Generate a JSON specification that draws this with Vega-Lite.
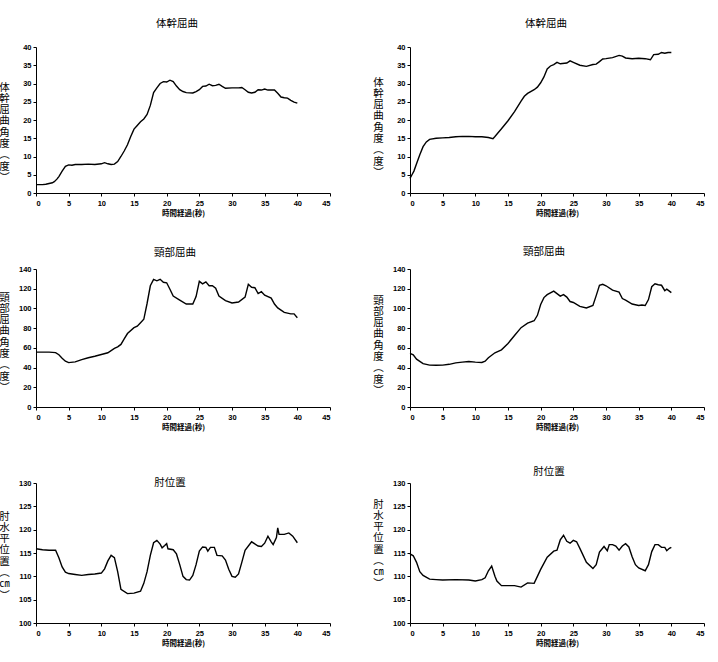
{
  "$schema": "https://vega.github.io/schema/vega-lite/v6.json",
  "background": "white",
  "padding": {"left": -2, "top": 18, "right": 5, "bottom": 5},
  "config": {
    "view": {"stroke": null},
    "font": "Noto Sans CJK JP",
    "axis": {"domainColor": "black", "tickColor": "black", "labelColor": "black", "titleColor": "black", "grid": false, "labelFont": "Liberation Sans", "labelFontWeight": "bold", "labelFontSize": 7.5, "tickSize": 3, "domainWidth": 1, "tickWidth": 1},
    "axisX": {"titleFont": "Noto Sans CJK JP", "titleFontSize": 7.5, "titleFontWeight": "bold", "titlePadding": 3, "labelPadding": 3},
    "axisY": {"titleAngle": 0, "titleAlign": "center", "titleBaseline": "top", "titleFont": "Noto Sans CJK JP", "titleFontSize": 10.5, "titleFontWeight": "normal", "titleLineHeight": 11.3, "titleX": -32, "labelPadding": 2},
    "title": {"fontSize": 10.5, "fontWeight": "normal", "color": "black", "font": "Noto Sans CJK JP", "frame": "group", "anchor": "middle"},
    "line": {"color": "black", "strokeWidth": 1.4}
  },
  "datasets": {
    "d1": [
      {"t":0,"v":2.3},{"t":1,"v":2.3},{"t":1.5,"v":2.4},{"t":2,"v":2.6},{"t":2.5,"v":2.8},{"t":2.8,"v":3.1},{"t":3.2,"v":3.8},{"t":3.5,"v":4.5},{"t":4,"v":6},{"t":4.5,"v":7.3},{"t":5,"v":7.7},{"t":5.5,"v":7.6},{"t":6,"v":7.8},{"t":7,"v":7.8},{"t":8,"v":7.9},{"t":9,"v":7.8},{"t":10,"v":8.0},{"t":10.5,"v":8.3},{"t":11,"v":8.0},{"t":11.5,"v":7.8},{"t":12,"v":7.9},{"t":12.5,"v":8.6},{"t":13,"v":10},{"t":13.5,"v":11.5},{"t":14,"v":13.2},{"t":14.5,"v":15.5},{"t":15,"v":17.5},{"t":15.5,"v":18.5},{"t":16,"v":19.5},{"t":16.5,"v":20.3},{"t":17,"v":21.5},{"t":17.5,"v":24},{"t":18,"v":27.5},{"t":18.5,"v":28.8},{"t":19,"v":30},{"t":19.5,"v":30.5},{"t":20,"v":30.4},{"t":20.5,"v":30.9},{"t":21,"v":30.5},{"t":21.5,"v":29.3},{"t":22,"v":28.3},{"t":22.5,"v":27.8},{"t":23,"v":27.5},{"t":24,"v":27.4},{"t":24.5,"v":27.8},{"t":25,"v":28.3},{"t":25.5,"v":29.2},{"t":26,"v":29.3},{"t":26.5,"v":29.8},{"t":27,"v":29.4},{"t":27.5,"v":29.5},{"t":28,"v":29.8},{"t":28.5,"v":29.2},{"t":29,"v":28.7},{"t":30,"v":28.8},{"t":31,"v":28.8},{"t":31.5,"v":28.9},{"t":32,"v":28.3},{"t":32.5,"v":27.6},{"t":33,"v":27.4},{"t":33.5,"v":27.6},{"t":34,"v":28.3},{"t":34.5,"v":28.2},{"t":35,"v":28.5},{"t":35.5,"v":28.2},{"t":36,"v":28.2},{"t":36.5,"v":28.2},{"t":37,"v":27.3},{"t":37.5,"v":26.3},{"t":38,"v":26.1},{"t":38.5,"v":26.0},{"t":39,"v":25.4},{"t":39.5,"v":24.9},{"t":40,"v":24.6}
    ],
    "d2": [
      {"t":0,"v":4.0},{"t":0.3,"v":5},{"t":0.6,"v":6},{"t":1,"v":8},{"t":1.5,"v":10.5},{"t":2,"v":12.7},{"t":2.5,"v":14},{"t":3,"v":14.7},{"t":4,"v":15.0},{"t":5,"v":15.1},{"t":6,"v":15.2},{"t":7,"v":15.4},{"t":8,"v":15.5},{"t":9,"v":15.5},{"t":10,"v":15.4},{"t":11,"v":15.4},{"t":12,"v":15.2},{"t":12.7,"v":14.9},{"t":13,"v":15.5},{"t":14,"v":17.6},{"t":15,"v":19.8},{"t":16,"v":22.3},{"t":17,"v":25.2},{"t":17.5,"v":26.5},{"t":18,"v":27.3},{"t":19,"v":28.3},{"t":19.5,"v":29.0},{"t":20,"v":30.2},{"t":20.5,"v":31.8},{"t":21,"v":34.0},{"t":21.5,"v":34.8},{"t":22,"v":35.2},{"t":22.5,"v":35.8},{"t":23,"v":35.4},{"t":24,"v":35.6},{"t":24.5,"v":36.2},{"t":25,"v":35.8},{"t":26,"v":35.0},{"t":27,"v":34.7},{"t":28,"v":35.2},{"t":28.5,"v":35.3},{"t":29,"v":36.0},{"t":29.5,"v":36.7},{"t":30,"v":36.8},{"t":31,"v":37.1},{"t":32,"v":37.7},{"t":32.5,"v":37.5},{"t":33,"v":37.0},{"t":34,"v":36.8},{"t":35,"v":36.9},{"t":36,"v":36.8},{"t":36.8,"v":36.5},{"t":37.3,"v":37.9},{"t":38,"v":38.0},{"t":38.5,"v":38.5},{"t":39,"v":38.3},{"t":39.5,"v":38.5},{"t":40,"v":38.5}
    ],
    "d3": [
      {"t":0,"v":55.7},{"t":1,"v":55.7},{"t":2,"v":55.7},{"t":3,"v":55.2},{"t":3.5,"v":53},{"t":4,"v":49.5},{"t":4.5,"v":46.5},{"t":5,"v":45.0},{"t":6,"v":45.8},{"t":7,"v":48},{"t":8,"v":50.0},{"t":9,"v":51.5},{"t":10,"v":53.3},{"t":11,"v":55.0},{"t":12,"v":59.5},{"t":12.5,"v":61},{"t":13,"v":63.5},{"t":13.5,"v":69},{"t":14,"v":74.5},{"t":15,"v":80.5},{"t":15.5,"v":82},{"t":16,"v":85.5},{"t":16.5,"v":89},{"t":17,"v":105},{"t":17.5,"v":123},{"t":18,"v":129.5},{"t":18.5,"v":128},{"t":19,"v":129.5},{"t":19.5,"v":126.5},{"t":20,"v":126},{"t":20.5,"v":119.5},{"t":21,"v":112.5},{"t":22,"v":108.5},{"t":23,"v":104.5},{"t":24,"v":104.5},{"t":24.5,"v":112},{"t":25,"v":127.5},{"t":25.5,"v":125},{"t":26,"v":127},{"t":26.5,"v":123},{"t":27,"v":123},{"t":27.5,"v":120.5},{"t":28,"v":112.5},{"t":29,"v":108},{"t":30,"v":105.5},{"t":31,"v":106.5},{"t":32,"v":111.5},{"t":32.5,"v":124.5},{"t":33,"v":121.5},{"t":33.5,"v":121},{"t":34,"v":115},{"t":34.5,"v":117},{"t":35,"v":113.5},{"t":36,"v":110.5},{"t":36.5,"v":104.5},{"t":37,"v":100.5},{"t":38,"v":96},{"t":39,"v":94.5},{"t":39.5,"v":94.5},{"t":40,"v":90.5}
    ],
    "d4": [
      {"t":0,"v":54.5},{"t":0.5,"v":53},{"t":1,"v":48.5},{"t":2,"v":44},{"t":3,"v":42.5},{"t":4,"v":42.3},{"t":5,"v":42.5},{"t":6,"v":43.3},{"t":7,"v":44.8},{"t":8,"v":45.5},{"t":9,"v":46.2},{"t":10,"v":45.5},{"t":11,"v":45.2},{"t":11.5,"v":46.5},{"t":12,"v":50},{"t":13,"v":55},{"t":14,"v":58},{"t":15,"v":64.5},{"t":16,"v":72.5},{"t":17,"v":80.5},{"t":18,"v":85},{"t":19,"v":87.5},{"t":19.5,"v":93},{"t":20,"v":104},{"t":20.5,"v":111},{"t":21,"v":114},{"t":22,"v":117.5},{"t":22.5,"v":115},{"t":23,"v":112.5},{"t":23.5,"v":114},{"t":24,"v":111.5},{"t":24.5,"v":107},{"t":25,"v":106},{"t":26,"v":102},{"t":27,"v":100.5},{"t":28,"v":103},{"t":28.5,"v":113},{"t":29,"v":123.5},{"t":29.5,"v":124.5},{"t":30,"v":123},{"t":31,"v":118.5},{"t":32,"v":116.5},{"t":32.5,"v":110},{"t":33,"v":108.5},{"t":34,"v":104.5},{"t":35,"v":103},{"t":35.5,"v":103.5},{"t":36,"v":103},{"t":36.5,"v":109},{"t":37,"v":122},{"t":37.5,"v":125},{"t":38,"v":124},{"t":38.5,"v":123.5},{"t":39,"v":118},{"t":39.3,"v":119.5},{"t":39.7,"v":117.5},{"t":40,"v":116}
    ],
    "d5": [
      {"t":0,"v":115.9},{"t":1,"v":115.7},{"t":2,"v":115.6},{"t":3,"v":115.6},{"t":3.5,"v":114},{"t":4,"v":112},{"t":4.5,"v":110.9},{"t":5,"v":110.6},{"t":6,"v":110.4},{"t":7,"v":110.2},{"t":8,"v":110.4},{"t":9,"v":110.5},{"t":10,"v":110.7},{"t":10.5,"v":111.6},{"t":11,"v":113.3},{"t":11.5,"v":114.5},{"t":12,"v":114.0},{"t":12.5,"v":111},{"t":13,"v":107.2},{"t":14,"v":106.3},{"t":15,"v":106.4},{"t":16,"v":106.8},{"t":16.5,"v":108.5},{"t":17,"v":111},{"t":17.5,"v":114.5},{"t":18,"v":117.2},{"t":18.5,"v":117.7},{"t":19,"v":116.9},{"t":19.3,"v":116.1},{"t":19.7,"v":116.6},{"t":20,"v":117.0},{"t":20.2,"v":115.9},{"t":21,"v":115.7},{"t":21.5,"v":114.8},{"t":22,"v":112.5},{"t":22.5,"v":110},{"t":23,"v":109.3},{"t":23.5,"v":109.2},{"t":24,"v":110.2},{"t":24.5,"v":112.5},{"t":25,"v":115.4},{"t":25.5,"v":116.3},{"t":26,"v":116.2},{"t":26.3,"v":115.4},{"t":26.7,"v":116.2},{"t":27.3,"v":116.2},{"t":27.7,"v":114.5},{"t":28.5,"v":114.4},{"t":29,"v":113.5},{"t":29.5,"v":111.5},{"t":30,"v":110.0},{"t":30.5,"v":109.8},{"t":31,"v":110.5},{"t":31.5,"v":113},{"t":32,"v":115.6},{"t":33,"v":117.4},{"t":34,"v":116.5},{"t":34.5,"v":116.4},{"t":35,"v":117.1},{"t":35.5,"v":118.6},{"t":36,"v":117.4},{"t":36.3,"v":116.8},{"t":36.8,"v":118.3},{"t":37,"v":120.4},{"t":37.2,"v":119},{"t":38,"v":119.0},{"t":38.7,"v":119.3},{"t":39.3,"v":118.6},{"t":40,"v":117.2}
    ],
    "d6": [
      {"t":0,"v":114.8},{"t":0.5,"v":114.4},{"t":1,"v":113},{"t":1.5,"v":111},{"t":2,"v":110.2},{"t":3,"v":109.4},{"t":4,"v":109.3},{"t":5,"v":109.2},{"t":7,"v":109.3},{"t":9,"v":109.2},{"t":10,"v":109.0},{"t":11,"v":109.3},{"t":11.5,"v":109.7},{"t":12,"v":111.2},{"t":12.5,"v":112.2},{"t":13,"v":110},{"t":13.3,"v":109},{"t":14,"v":108.0},{"t":15,"v":108.0},{"t":16,"v":108.0},{"t":17,"v":107.7},{"t":18,"v":108.6},{"t":19,"v":108.5},{"t":19.5,"v":110},{"t":20,"v":111.5},{"t":21,"v":114.1},{"t":22,"v":115.4},{"t":22.5,"v":115.6},{"t":23,"v":117.8},{"t":23.5,"v":118.8},{"t":24,"v":117.5},{"t":24.5,"v":117.1},{"t":25,"v":117.7},{"t":25.5,"v":117.4},{"t":26,"v":116},{"t":27,"v":113},{"t":28,"v":111.7},{"t":28.5,"v":112.5},{"t":29,"v":115.2},{"t":29.7,"v":116.4},{"t":30.2,"v":115.5},{"t":30.5,"v":116.8},{"t":31,"v":116.8},{"t":31.5,"v":116.5},{"t":32,"v":115.6},{"t":32.5,"v":116.5},{"t":33,"v":117.0},{"t":33.5,"v":116.3},{"t":34,"v":114.2},{"t":34.5,"v":112.5},{"t":35,"v":111.8},{"t":36,"v":111.2},{"t":36.5,"v":112.5},{"t":37,"v":115.3},{"t":37.5,"v":116.8},{"t":38,"v":116.8},{"t":38.5,"v":116.2},{"t":39,"v":116.2},{"t":39.3,"v":115.5},{"t":39.7,"v":116.0},{"t":40,"v":116.2}
    ]
  },
  "columns": 2,
  "bounds": "flush",
  "spacing": {"row": 76, "column": 80},
  "concat": [
    {
      "data": {"name": "d1"}, "width": 294, "height": 146,
      "title": {"text": "体幹屈曲", "offset": 14, "dx": -6},
      "mark": {"type": "line"},
      "encoding": {
        "x": {"field": "t", "type": "quantitative", "scale": {"domain": [0, 45], "nice": false}, "axis": {"title": "時間経過(秒)", "values": [0,5,10,15,20,25,30,35,40,45]}},
        "y": {"field": "v", "type": "quantitative", "scale": {"domain": [0, 40], "nice": false}, "axis": {"title": ["体","幹","屈","曲","角","度","︵","度","︶"], "values": [0,5,10,15,20,25,30,35,40], "titleY": 35}}
      }
    },
    {
      "data": {"name": "d2"}, "width": 294, "height": 146,
      "title": {"text": "体幹屈曲", "offset": 14, "dx": -11},
      "mark": {"type": "line"},
      "encoding": {
        "x": {"field": "t", "type": "quantitative", "scale": {"domain": [0, 45], "nice": false}, "axis": {"title": "時間経過(秒)", "values": [0,5,10,15,20,25,30,35,40,45]}},
        "y": {"field": "v", "type": "quantitative", "scale": {"domain": [0, 40], "nice": false}, "axis": {"title": ["体","幹","屈","曲","角","度","︵","度","︶"], "values": [0,5,10,15,20,25,30,35,40], "titleY": 30}}
      }
    },
    {
      "data": {"name": "d3"}, "width": 294, "height": 138,
      "title": {"text": "頸部屈曲", "offset": 7, "dx": -8},
      "mark": {"type": "line"},
      "encoding": {
        "x": {"field": "t", "type": "quantitative", "scale": {"domain": [0, 45], "nice": false}, "axis": {"title": "時間経過(秒)", "values": [0,5,10,15,20,25,30,35,40,45]}},
        "y": {"field": "v", "type": "quantitative", "scale": {"domain": [0, 140], "nice": false}, "axis": {"title": ["頸","部","屈","曲","角","度","︵","度","︶"], "values": [0,20,40,60,80,100,120,140], "titleY": 23}}
      }
    },
    {
      "data": {"name": "d4"}, "width": 294, "height": 138,
      "title": {"text": "頸部屈曲", "offset": 8, "dx": -13},
      "mark": {"type": "line"},
      "encoding": {
        "x": {"field": "t", "type": "quantitative", "scale": {"domain": [0, 45], "nice": false}, "axis": {"title": "時間経過(秒)", "values": [0,5,10,15,20,25,30,35,40,45]}},
        "y": {"field": "v", "type": "quantitative", "scale": {"domain": [0, 140], "nice": false}, "axis": {"title": ["頸","部","屈","曲","角","度","︵","度","︶"], "values": [0,20,40,60,80,100,120,140], "titleY": 26}}
      }
    },
    {
      "data": {"name": "d5"}, "width": 294, "height": 140,
      "title": {"text": "肘位置", "offset": -9, "dx": -13},
      "mark": {"type": "line"},
      "encoding": {
        "x": {"field": "t", "type": "quantitative", "scale": {"domain": [0, 45], "nice": false}, "axis": {"title": "時間経過(秒)", "values": [0,5,10,15,20,25,30,35,40,45]}},
        "y": {"field": "v", "type": "quantitative", "scale": {"domain": [100, 130], "nice": false, "zero": false}, "axis": {"title": ["肘","水","平","位","置","︵","㎝","︶"], "values": [100,105,110,115,120,125,130], "titleY": 28}}
      }
    },
    {
      "data": {"name": "d6"}, "width": 294, "height": 140,
      "title": {"text": "肘位置", "offset": 2, "dx": -8},
      "mark": {"type": "line"},
      "encoding": {
        "x": {"field": "t", "type": "quantitative", "scale": {"domain": [0, 45], "nice": false}, "axis": {"title": "時間経過(秒)", "values": [0,5,10,15,20,25,30,35,40,45]}},
        "y": {"field": "v", "type": "quantitative", "scale": {"domain": [100, 130], "nice": false, "zero": false}, "axis": {"title": ["肘","水","平","位","置","︵","㎝","︶"], "values": [100,105,110,115,120,125,130], "titleY": 16}}
      }
    }
  ]
}
